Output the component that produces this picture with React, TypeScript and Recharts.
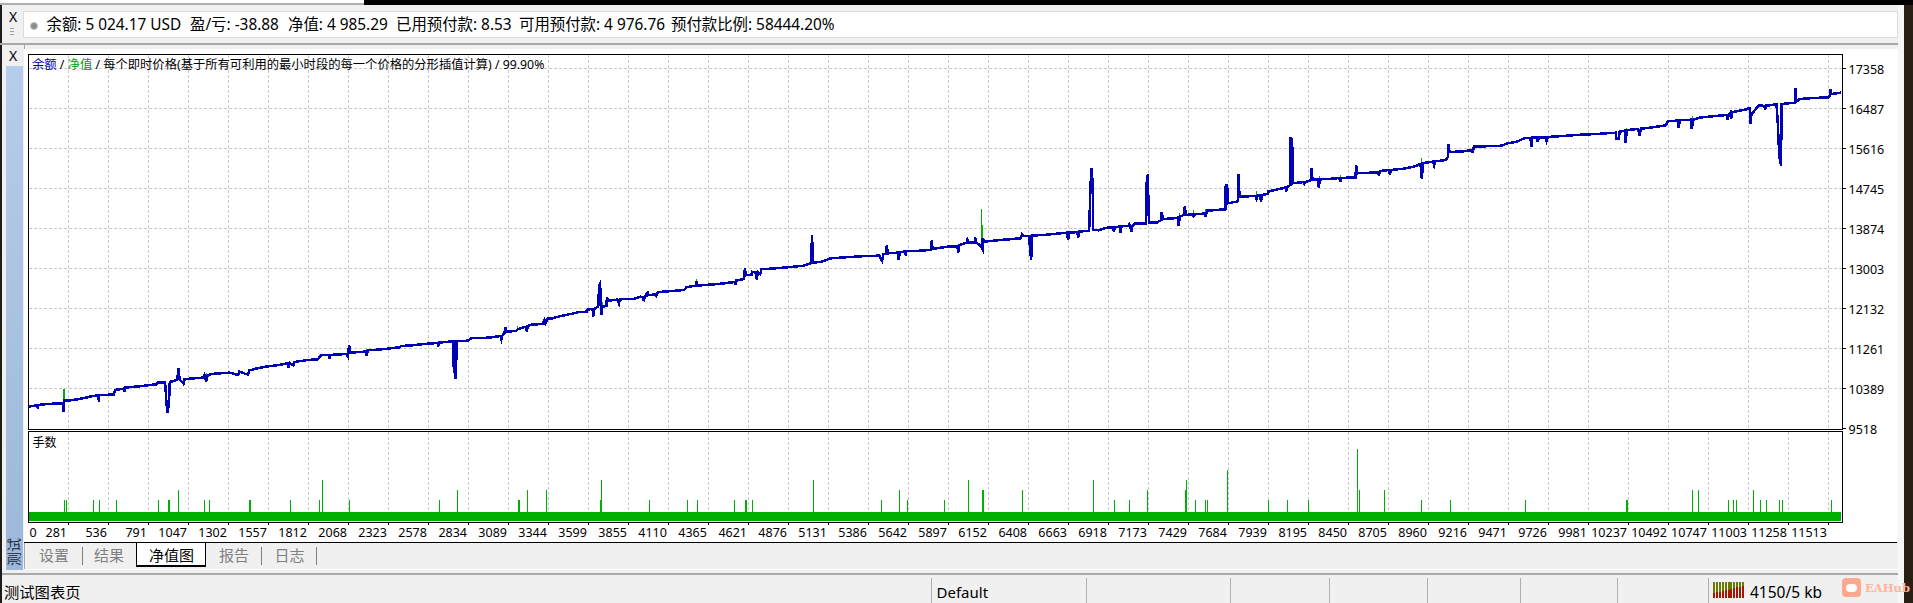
import React from "react";
import { ComposedChart, Line, Bar, Area, XAxis, YAxis, CartesianGrid } from "recharts";

const FONT = '"Noto Sans","Noto Sans CJK SC",sans-serif';
const BLUE = "#0000b4";
const GREEN = "#00b000";

const xTickLabels = ["0","281","536","791","1047","1302","1557","1812","2068","2323","2578","2834","3089","3344","3599","3855","4110","4365","4621","4876","5131","5386","5642","5897","6152","6408","6663","6918","7173","7429","7684","7939","8195","8450","8705","8960","9216","9471","9726","9981","10237","10492","10747","11003","11258","11513"];
const yTicks = [17358,16487,15616,14745,13874,13003,12132,11261,10389,9518];

const balancePairs: number[][] = [
[26,9990],[81,10019],[86,9954],[90,10027],[145,10048],[245,10063],[250,9881],[254,10121],[277,10121],[341,10150],[383,10179],[437,10222],[473,10237],[475,10099],[477,10244],[571,10252],[579,10353],[634,10382],[639,10324],[643,10404],[734,10433],[841,10476],[851,10520],[898,10513],[907,10034],[915,9860],[924,10193],[928,10527],[975,10571],[983,10825],[990,10585],[1015,10491],[1022,10585],[1039,10593],[1139,10622],[1149,10680],[1160,10535],[1170,10672],[1196,10702],[1309,10730],[1364,10680],[1370,10752],[1426,10687],[1434,10774],[1468,10810],[1528,10854],[1628,10897],[1685,10941],[1685,10839],[1694,10941],[1717,10883],[1724,10963],[1809,11006],[1872,11021],[1894,11115],[1945,11115],[1947,11021],[1951,11115],[2053,11137],[2064,11079],[2072,11326],[2081,11166],[2177,11188],[2185,11101],[2191,11217],[2255,11231],[2319,11253],[2394,11282],[2404,11311],[2479,11326],[2553,11355],[2638,11376],[2640,11297],[2647,11384],[2691,11398],[2738,11413],[2740,10861],[2753,10585],[2759,11413],[2830,11427],[2851,11478],[2968,11493],[3038,11529],[3044,11456],[3051,11543],[3063,11587],[3070,11718],[3074,11623],[3138,11638],[3149,11674],[3202,11732],[3206,11630],[3212,11747],[3234,11776],[3308,11790],[3319,11877],[3325,11805],[3340,11906],
[3360,11906],[3424,11964],[3487,12008],[3530,12044],[3589,12059],[3594,12102],[3626,12117],[3630,11950],[3638,12124],[3662,12168],[3668,12639],[3674,12676],[3679,12168],[3681,11979],[3687,12168],[3715,12182],[3717,12371],[3726,12298],[3785,12320],[3794,12233],[3800,12327],[3891,12335],[3930,12385],[3951,12371],[3951,12284],[3960,12385],[3977,12472],[3981,12415],[4030,12436],[4030,12371],[4038,12472],[4051,12487],[4136,12509],[4210,12531],[4225,12589],[4285,12625],[4289,12712],[4296,12625],[4402,12654],[4466,12676],[4534,12705],[4536,12640],[4542,12734],[4593,12770],[4598,13002],[4604,12857],[4642,12864],[4642,12930],[4668,12908],[4672,12763],[4683,12908],[4695,12872],[4704,12981],[4849,13017],[4976,13060],[5019,13111],[5027,13728],[5031,13126],[5083,13140],[5146,13220],[5338,13264],[5455,13278],[5474,13162],[5482,13314],[5497,13314],[5504,13496],[5510,13329],[5576,13343],[5580,13191],[5587,13358],[5621,13365],[5623,13285],[5629,13373],[5689,13380],[5784,13402],[5789,13605],[5797,13423],[5891,13474],[5955,13474],[5959,13343],[5965,13503],[6014,13561],[6018,13619],[6025,13561],[6065,13561],[6067,13677],[6074,13561],[6099,13510],[6114,13416],[6116,13656],[6125,13583],[6231,13619],[6359,13656],[6367,13735],[6376,13706],[6414,13706],[6416,13510],[6425,13184],[6431,13714],[6529,13735],[6652,13779],[6661,13627],[6669,13786],
[6698,13786],[6719,13793],[6725,13670],[6732,13801],[6795,13822],[6804,14817],[6810,15180],[6819,14795],[6821,13837],[6857,13830],[6910,13888],[6948,13895],[6953,13801],[6959,13902],[6991,13909],[6995,13779],[7002,13917],[7048,13924],[7048,13996],[7055,13924],[7065,13808],[7072,13924],[7085,13975],[7159,13982],[7163,14940],[7170,15056],[7174,14287],[7178,14004],[7229,14004],[7257,14055],[7257,14222],[7268,14076],[7336,14091],[7361,14105],[7365,13931],[7374,14127],[7399,14163],[7406,14345],[7412,14163],[7459,14178],[7459,14113],[7467,14178],[7506,14185],[7533,14200],[7538,14127],[7548,14258],[7665,14287],[7667,14802],[7676,14802],[7680,14417],[7744,14461],[7748,15056],[7755,14563],[7859,14577],[7863,14512],[7872,14592],[7889,14592],[7891,14454],[7899,14599],[7935,14621],[7935,14672],[8027,14744],[8052,14766],[8052,14672],[8061,14780],[8080,14817],[8080,15833],[8091,15818],[8093,14853],[8165,14882],[8165,14809],[8172,14882],[8197,14904],[8212,14926],[8214,15187],[8220,14940],[8257,14940],[8261,14751],[8267,14940],[8325,14947],[8393,14969],[8397,14882],[8405,14969],[8495,14984],[8499,15252],[8505,15071],[8639,15093],[8644,15020],[8650,15107],[8665,15129],[8710,15143],[8714,15042],[8722,15143],[8803,15172],[8867,15216],[8910,15274],[8918,14955],[8927,15296],[8991,15325],[8997,15238],[9005,15332],[9069,15361],[9084,15419],[9088,15709],[9095,15535],[9186,15550],[9239,15579],[9243,15521],[9250,15651],[9431,15673],[9463,15724],[9526,15760],[9569,15833],[9611,15840],[9618,15651],[9624,15847],[9654,15847],[9658,15760],[9665,15847],[9709,15855],[9714,15782],[9722,15862],[9846,15891],[9941,15913],[10033,15927],
[10156,15956],[10161,15818],[10176,15818],[10180,15978],[10214,16000],[10218,15724],[10227,16014],[10299,16036],[10307,15898],[10316,16043],[10373,16065],[10475,16116],[10490,16210],[10554,16218],[10558,16065],[10565,16225],[10637,16239],[10641,16043],[10650,16239],[10692,16283],[10788,16319],[10865,16341],[10869,16232],[10877,16355],[10888,16399],[10892,16261],[10901,16406],[10990,16464],[11003,16486],[11011,16486],[11016,16152],[11022,16377],[11033,16399],[11071,16559],[11105,16537],[11109,16464],[11116,16544],[11182,16573],[11190,16159],[11196,15688],[11203,15361],[11211,15238],[11214,16580],[11299,16609],[11303,16922],[11309,16631],[11331,16689],[11384,16704],[11511,16726],[11522,16755],[11528,16900],[11532,16798],[11592,16827],
];

// equity excursions that show beside the balance line: trade, low, high
const equitySpikes: number[][] = [
[250,10100,10368],[256,10100,10368],[1160,10670,10716],[1687,10941,10970],[2181,11188,11253],[2747,11188,11405],[3149,11674,11747],[3689,12168,12277],[4289,12625,12763],[6106,13619,14287],[6112,13619,13946],[7374,14127,14200],[7463,14178,14272],[7540,14200,14287],[7863,14577,14679],[8265,14940,15020],[8401,14969,15027],[8916,15274,15397],[9246,15600,15666],[9616,15840,15884],[10224,16014,16065],[10646,16239,16319],
];

// trade number, lots
const lotPairs: number[][] = [
[252,0.02],[258,0.02],[265,0.02],[271,0.02],[440,0.02],[479,0.02],[578,0.02],[586,0.02],[857,0.02],[911,0.03],[919,0.02],[924,0.02],[982,0.03],[1148,0.02],[1180,0.02],[1435,0.02],[1443,0.02],[1698,0.02],[1721,0.02],[1883,0.02],[1901,0.04],[2073,0.02],[2193,0.02],[2404,0.02],[2649,0.02],[2763,0.03],[3152,0.02],[3160,0.02],[3209,0.03],[3323,0.03],[3331,0.03],[3355,0.02],[3678,0.02],[3683,0.04],[3693,0.02],
[3979,0.02],[3988,0.02],[4230,0.02],[4295,0.02],[4532,0.02],[4600,0.02],[4609,0.02],[4646,0.02],[5036,0.04],[5469,0.02],[5506,0.04],[5583,0.03],[5634,0.02],[5799,0.02],[5871,0.02],[6016,0.02],[6025,0.04],[6067,0.04],[6073,0.02],[6113,0.03],[6121,0.03],[6372,0.03],[6725,0.03],[6814,0.04],[6822,0.04],[6956,0.02],[7044,0.02],[7053,0.02],[7167,0.03],[7178,0.02],[7261,0.02],[7409,0.03],[7415,0.04],[7472,0.02],[7529,0.02],[7538,0.02],[7549,0.02],[7677,0.05],[7899,0.02],[7942,0.02],[8059,0.02],[8084,0.02],[8090,0.05],[8167,0.02],[8193,0.02],[8218,0.04],
[8507,0.07],[8519,0.03],[8679,0.03],[8916,0.02],[9100,0.02],[9579,0.02],[9622,0.02],[10171,0.02],[10223,0.02],[10231,0.02],[10645,0.03],[10682,0.03],[10874,0.02],[10907,0.02],[10929,0.02],[11034,0.03],[11071,0.02],[11079,0.02],[11116,0.02],[11199,0.02],[11219,0.02],[11326,0.02],[11533,0.02],
];

const BASE_LOT = 0.009;
const X_START = 26;
const X_END = 11603;
const gridTicks = xTickLabels.slice(1).map(Number);
const xTicks = [X_START, ...gridTicks];

const balanceData = balancePairs.map(([trade, balance]) => ({ trade, balance }));
const equityData = equitySpikes.flatMap(([trade, lo, hi]) => [
  { trade, equity: lo }, { trade, equity: hi }, { trade, equity: null },
]);
const lotData = [
  { trade: X_START + 3, band: BASE_LOT },
  ...lotPairs.map(([trade, lots]) => ({ trade, lots, band: BASE_LOT })),
  { trade: X_END - 8, band: BASE_LOT },
];

const XTick = (p: any) => {
  const v = p.payload.value;
  if (v === X_START) {
    return <text x={p.x + 1} y={p.y + 14} fontSize={12.5} fontFamily={FONT} fill="#000">0</text>;
  }
  return (
    <g>
      <line x1={p.x} x2={p.x} y1={p.y} y2={p.y + 2} stroke="#000" />
      <text x={p.x - 1.5} y={p.y + 14} textAnchor="end" fontSize={12.5} fontFamily={FONT} fill="#000">{String(xTickLabels[xTicks.indexOf(v)])}</text>
    </g>
  );
};
const YTick = (p: any) => (
  <g>
    <line x1={1842.5} x2={1845.5} y1={p.y} y2={p.y} stroke="#000" />
    <text x={1848.5} y={p.y + 6} fontSize={12.5} fontFamily={FONT} fill="#000">{p.payload.value}</text>
  </g>
);

const abs = (left: number, top: number, width: number, height: number, background: string, extra: any = {}) => (
  <div style={{ position: "absolute", left, top, width, height, background, boxSizing: "border-box", ...extra }} />
);
const T = ({ x, y, size = 14, color = "#000", children }: any) => (
  <div style={{ position: "absolute", left: x, top: y - 12, height: 24, lineHeight: "24px", fontSize: size, color, fontFamily: FONT, whiteSpace: "pre" }}>{children}</div>
);

const statusSeps = [930.7, 1086, 1230, 1328.6, 1426.8, 1520, 1616.5, 1708];
const tabSeps = [81.6, 261, 316];
const netBars = [0, 1, 2, 3, 4, 5, 6, 7, 8, 9, 10];

export default function App() {
  return (
    <div style={{ position: "absolute", left: 0, top: 0, width: 1913, height: 603, overflow: "hidden", background: "#f0f0f0" }}>
      {abs(0, 0, 364, 3, "#ffffff")}
      {abs(0, 3, 364, 2, "#b0b0b0")}
      {abs(364, 0, 1549, 5, "#000000")}
      {abs(1898, 5, 6, 598, "#f6f6f6")}
      {abs(1904, 5, 9, 598, "#2a1f14")}
      {abs(0, 5, 2, 598, "#1c1c1c")}
      {abs(23, 11, 1875, 27, "#ffffff", { border: "1px solid #dcdcdc" })}
      {abs(0, 43, 1898, 2, "#a8a8a8")}
      {abs(6, 66, 16.5, 504, "linear-gradient(#b4cdea,#9db8d8)")}
      {abs(23.5, 45, 1, 525, "#a8a8a8")}
      {abs(24, 49, 1874, 493, "#ffffff")}
      <T x={9} y={17} size={14}>X</T>
      <T x={9} y={56} size={14}>X</T>
      <div style={{ position: "absolute", left: 30, top: 22, width: 8, height: 8, borderRadius: 4, background: "#8c8c8c", border: "1px solid #c0c0c0", boxSizing: "border-box" }} />
      {abs(10, 28, 4, 1, "#a0a0a0")}
      {abs(10, 31, 4, 1, "#a0a0a0")}
      {abs(10, 34, 4, 1, "#a0a0a0")}
      <T x={46.5} y={25} size={15.4}>余额: 5 024.17 USD</T>
      <T x={190} y={25} size={15.4}>盈/亏: -38.88</T>
      <T x={288} y={25} size={15.4}>净值: 4 985.29</T>
      <T x={396} y={25} size={15.4}>已用预付款: 8.53</T>
      <T x={519} y={25} size={15.4}>可用预付款: 4 976.76</T>
      <T x={671} y={25} size={15.4}>预付款比例: 58444.20%</T>

      <div style={{ position: "absolute", left: 0, top: 40, shapeRendering: "crispEdges" } as any}>
        <ComposedChart width={1913} height={410} margin={{ top: 14.5, bottom: 20.5, left: 28.5, right: 0 }}>
          <CartesianGrid stroke="#c8c8c8" strokeDasharray="3 2" verticalValues={gridTicks} horizontalValues={yTicks.slice(0, -1)} />
          <XAxis dataKey="trade" type="number" domain={[X_START, X_END]} ticks={gridTicks} hide allowDuplicatedCategory={false} />
          <YAxis orientation="right" type="number" width={70.5} domain={[9492, 17658.5]} ticks={yTicks} interval={0} axisLine={false} tickLine={false} tick={YTick} />
          <Line data={equityData} dataKey="equity" stroke={GREEN} strokeWidth={1} dot={false} connectNulls={false} isAnimationActive={false} />
          <Line data={balanceData} dataKey="balance" stroke={BLUE} strokeWidth={2.5} dot={false} isAnimationActive={false} />
        </ComposedChart>
      </div>

      <div style={{ position: "absolute", left: 0, top: 420, shapeRendering: "crispEdges" } as any}>
        <ComposedChart width={1913} height={125} data={lotData} margin={{ top: 11.5, bottom: 0.5, left: 28.5, right: 70.5 }}>
          <CartesianGrid stroke="#c8c8c8" strokeDasharray="3 2" horizontal={false} verticalValues={gridTicks} />
          <XAxis dataKey="trade" type="number" domain={[X_START, X_END]} ticks={xTicks} interval={0} height={22} axisLine={false} tickLine={false} tickSize={0} tickMargin={0} tick={XTick} />
          <YAxis hide type="number" domain={[-0.00146, 0.0869]} />
          <Area dataKey="band" type="linear" stroke="none" fill={GREEN} fillOpacity={1} baseValue={0} dot={false} activeDot={false} isAnimationActive={false} />
          <Bar dataKey="lots" fill={GREEN} barSize={1} isAnimationActive={false} />
        </ComposedChart>
      </div>

      {abs(28, 54, 1815, 376, "transparent", { border: "1px solid #000" })}
      {abs(28, 431, 1815, 92, "transparent", { border: "1px solid #000" })}

      <div style={{ position: "absolute", left: 32, top: 53, height: 24, lineHeight: "24px", fontSize: 12.3, fontFamily: FONT, whiteSpace: "pre", color: "#000" }}>
        <span style={{ color: "#0000b4" }}>余额</span> / <span style={{ color: "#00a000" }}>净值</span> / 每个即时价格(基于所有可利用的最小时段的每一个价格的分形插值计算) / 99.90%
      </div>
      <T x={32.5} y={443} size={12}>手数</T>

      {abs(24, 542, 1873, 1, "#000000")}
      <div style={{ position: "absolute", left: 136, top: 542, width: 70, height: 25, background: "#fff", borderLeft: "1px solid #000", borderRight: "1px solid #000", borderTop: "1px solid #000", borderBottom: "2px solid #000", boxSizing: "border-box" }} />
      {tabSeps.map((s) => <React.Fragment key={s}>{abs(s, 547, 1, 18, "#808080")}</React.Fragment>)}
      <T x={39} y={555} size={15} color="#808080">设置</T>
      <T x={94} y={555} size={15} color="#808080">结果</T>
      <T x={149} y={555} size={15}>净值图</T>
      <T x={219} y={555} size={15} color="#808080">报告</T>
      <T x={274.5} y={555} size={15} color="#808080">日志</T>
      <div style={{ position: "absolute", left: -6, top: 542, width: 40, height: 20, lineHeight: "20px", fontSize: 14, fontFamily: FONT, color: "#1c2a3c", transform: "rotate(-90deg)", textAlign: "center", whiteSpace: "pre", transformOrigin: "center" }}>测试</div>

      {abs(24, 569, 1874, 1, "#ffffff")}
      {abs(2, 573, 1896, 2, "#a8a8a8")}
      {statusSeps.map((s) => <React.Fragment key={s}>{abs(s, 578, 1, 25, "#b0b0b0")}</React.Fragment>)}
      <T x={4} y={592} size={15.3}>测试图表页</T>
      <T x={936.5} y={592} size={15}>Default</T>
      <T x={1750} y={592} size={15.5}>4150/5 kb</T>
      {netBars.map((i) => (
        <React.Fragment key={i}>
          {abs(1713 + i * 2.9, 582, 2, 11 - i * 0.7, "#6b7a00")}
          {abs(1713 + i * 2.9, 593 - i * 0.7, 2, 5 + i * 0.7, "#a01a00")}
        </React.Fragment>
      ))}
      {abs(1842, 578, 19, 19, "#ffa78f", { borderRadius: 4 })}
      <div style={{ position: "absolute", left: 1846, top: 584, width: 11, height: 8, borderRadius: 4, background: "#fff" }} />
      <div style={{ position: "absolute", left: 1865, top: 578, height: 20, lineHeight: "20px", fontSize: 11.5, fontWeight: 700, fontFamily: '"DejaVu Serif",serif', color: "#ffb4a0", whiteSpace: "pre" }}>EAHub</div>
    </div>
  );
}
